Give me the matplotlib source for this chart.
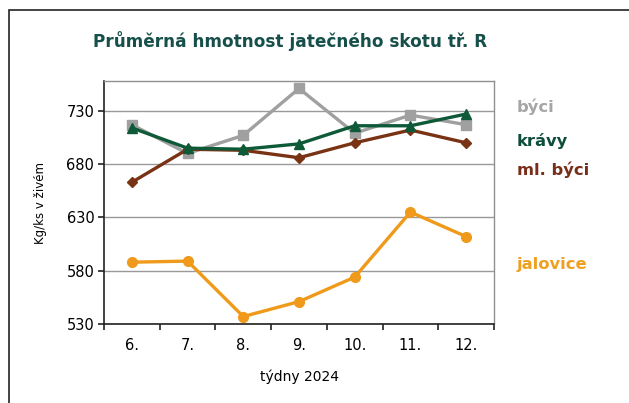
import numpy as np
import matplotlib.pyplot as plt
from matplotlib.patches import Rectangle

weeks = ['6.', '7.', '8.', '9.', '10.', '11.', '12.']
byci = [717, 690, 707, 751, 709, 726, 717]
kravy = [714, 695, 694, 699, 716, 716, 727]
ml_byci = [663, 694, 693, 686, 700, 712, 700]
jalovice = [588, 589, 537, 551, 574, 635, 612]

x = np.arange(len(weeks))

fig = plt.figure(figsize=(6.29, 4.03), dpi=100)
# outer frame of the chart
fig.patches.append(Rectangle((9 / 629, -0.05), 1.1, (1 - 10 / 403) + 0.05,
                             transform=fig.transFigure, fill=False,
                             edgecolor='#222222', lw=1.2))

ax = fig.add_axes([104 / 629, 1 - 324 / 403, (494 - 104) / 629, (324 - 81) / 403])

ax.plot(x, byci, color='#a0a0a0', lw=2.4, marker='s', ms=7, zorder=3)
ax.plot(x, ml_byci, color='#7a3214', lw=2.4, marker='D', ms=5, zorder=4)
ax.plot(x, kravy, color='#0e5a38', lw=2.4, marker='^', ms=7, zorder=5)
ax.plot(x, jalovice, color='#ef9a1a', lw=2.4, marker='o', ms=7, zorder=3)

ax.set_xlim(-0.5, len(weeks) - 0.5)
ax.set_ylim(530, 758)
ax.set_yticks([530, 580, 630, 680, 730])
ax.yaxis.grid(True, color='#999999', lw=1)
ax.set_axisbelow(True)

ax.set_xticks(x)
ax.set_xticklabels(weeks)
ax.set_xticks(np.arange(-0.5, len(weeks)), minor=True)
ax.tick_params(axis='x', which='major', length=0, pad=10, labelsize=10.5)
ax.tick_params(axis='x', which='minor', length=4, width=1.2, color='#222222')
ax.tick_params(axis='y', length=4, width=1.2, color='#222222', labelsize=10.5, pad=3)

for s in ['left', 'bottom']:
    ax.spines[s].set_color('#222222')
    ax.spines[s].set_linewidth(1.2)
for s in ['top', 'right']:
    ax.spines[s].set_color('#909090')
    ax.spines[s].set_linewidth(1)

ax.set_xlabel('týdny 2024', fontsize=10, labelpad=12)
ax.set_ylabel('Kg/ks v živém', fontsize=8.5, labelpad=14)

fig.text(93 / 629, 1 - 41 / 403, 'Průměrná hmotnost jatečného skotu tř. R',
         fontsize=12.2, fontweight='bold', color='#17504a', va='center')

labels = [('býci', 107, '#a6a6a6'), ('krávy', 141, '#0d4d3a'),
          ('ml. býci', 170, '#7a2e1a'), ('jalovice', 264, '#f0a020')]
for txt, yy, c in labels:
    fig.text(517 / 629, 1 - yy / 403, txt, fontsize=11.8, fontweight='bold',
             color=c, va='center')

fig.savefig('out.png', dpi=100)
